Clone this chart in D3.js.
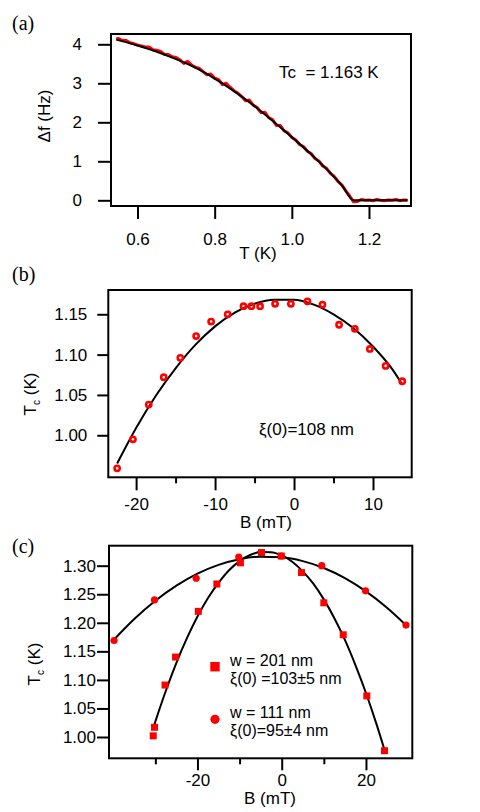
<!DOCTYPE html>
<html><head><meta charset="utf-8">
<script src="https://cdn.jsdelivr.net/npm/d3@7"></script>
<style>
body{margin:0;background:#fff}
svg{display:block}
</style>
</head><body>
<script>
// ---------- Panel (a): frequency shift vs temperature ----------
const aT = [0.545,0.55,0.56,0.57,0.58,0.59,0.60,0.61,0.62,0.63,0.64,0.65,0.66,0.67,0.68,0.69,
  0.70,0.71,0.72,0.73,0.74,0.75,0.76,0.77,0.78,0.79,0.80,0.81,0.82,0.83,0.84,0.85,0.86,0.87,0.88,0.89,
  0.90,0.91,0.92,0.93,0.94,0.95,0.96,0.97,0.98,0.99,1.00,1.01,1.02,1.03,1.04,1.05,1.06,1.07,1.08,1.09,
  1.10,1.11,1.12,1.13,1.14,1.15,1.16,1.17,1.18,1.19,1.20,1.21,1.22,1.23,1.24,1.25,1.26,1.27,1.28,1.29,1.30];
const aDf = [4.13,4.15,4.10,4.10,4.04,4.02,3.98,3.96,3.93,3.93,3.86,3.85,3.82,3.74,3.74,3.68,
  3.66,3.60,3.51,3.56,3.47,3.41,3.38,3.30,3.22,3.24,3.13,3.10,2.97,3.00,2.90,2.81,2.75,2.66,2.55,2.57,
  2.44,2.38,2.25,2.26,2.12,2.07,1.92,1.92,1.78,1.73,1.61,1.55,1.43,1.38,1.26,1.20,1.07,1.01,0.88,0.82,
  0.69,0.61,0.48,0.39,0.24,0.11,-0.04,-0.03,0.02,0.00,0.01,-0.01,0.02,0.00,-0.01,0.01,0.00,0.02,-0.01,0.01,0.00];
const aFitT  = [0.545,0.60,0.65,0.70,0.75,0.80,0.85,0.90,0.95,1.00,1.05,1.10,1.13,1.16,1.30];
const aFitDf = [4.12,3.97,3.81,3.62,3.40,3.12,2.80,2.44,2.04,1.62,1.18,0.70,0.38,0.00,0.00];
const aXTicks = [0.6,0.8,1.0,1.2];
const aYTicks = [0,1,2,3,4];

// ---------- Panel (b): Tc vs B ----------
const bB  = [-22.4,-20.4,-18.4,-16.5,-14.4,-12.4,-10.5,-8.4,-6.4,-5.4,-4.3,-2.4,-0.4,1.7,3.6,5.7,7.7,9.6,11.6,13.7];
const bTc = [0.959,0.995,1.038,1.072,1.096,1.123,1.141,1.150,1.160,1.160,1.160,1.163,1.163,1.166,1.162,1.137,1.132,1.107,1.086,1.067];
const bFitB  = [-22.4,-20,-17.5,-15,-12.5,-10,-7.5,-5,-2.5,0,2.5,5,7.5,10,12.5,13.7];
const bFitTc = [0.965,1.009,1.049,1.083,1.112,1.135,1.152,1.163,1.168,1.168,1.162,1.150,1.133,1.110,1.081,1.063];
const bXTicks = [-20,-10,0,10];
const bXMinor = [-15,-5,5];
const bYTicks = [1.00,1.05,1.10,1.15];

// ---------- Panel (c): two widths ----------
const cSqB  = [-30.5,-30.2,-27.7,-25.2,-19.8,-15.4,-9.8,-4.8,-0.1,4.7,10.0,14.6,20.2,24.4];
const cSqTc = [1.002,1.017,1.091,1.140,1.220,1.268,1.305,1.323,1.317,1.288,1.235,1.179,1.072,0.976];
const cCiB  = [-39.8,-30.2,-20.3,-10.2,-0.1,9.5,19.9,29.5];
const cCiTc = [1.169,1.240,1.278,1.315,1.317,1.300,1.256,1.196];
const cSqFitB  = [-30.4,-30,-27.5,-25,-22.5,-20,-17.5,-15,-12.5,-10,-7.5,-5,-2.5,0,2.5,5,7.5,10,12.5,15,17.5,20,22.5,24.3];
const cSqFitTc = [1.018,1.027,1.081,1.130,1.173,1.211,1.2435,1.270,1.292,1.308,1.3187,1.3239,1.3237,1.318,1.307,1.290,1.2685,1.241,1.208,1.170,1.126,1.077,1.0225,0.980];
const cCiFitB  = [-40,-35,-30,-25,-20,-15,-10,-5,0,5,10,15,20,25,29.5];
const cCiFitTc = [1.169,1.2065,1.2385,1.265,1.286,1.3014,1.3113,1.3158,1.3146,1.308,1.2959,1.2782,1.255,1.2263,1.1958];
const cXTicks = [-20,0,20];
const cXMinor = [-30,-10,10];
const cYTicks = [1.00,1.05,1.10,1.15,1.20,1.25,1.30];
const cLegend = [
  {shape:"square", l1:"w = 201 nm", l2:"ξ(0) =103±5 nm"},
  {shape:"circle", l1:"w = 111 nm", l2:"ξ(0)=95±4 nm"}
];

// ---------- drawing ----------
const RED = "#ff0000";
const SANS = 'Arial,"Liberation Sans",sans-serif';
const SERIF = '"Liberation Serif","Times New Roman",serif';
const svg = d3.select("body").append("svg").attr("width",480).attr("height",812)
  .style("font-family",SANS);

function styleAxis(g){
  g.select(".domain").remove();
  g.selectAll(".tick line").attr("stroke","#000").attr("stroke-width",2);
  g.selectAll(".tick text").style("font-size","17px").style("font-family",SANS).attr("fill","#000");
}

function frameAndAxes(x, y, o){
  const [x0,x1] = x.range(), [y0,y1] = y.range();
  const g = svg.append("g");
  g.append("g").attr("transform",`translate(0,${y0})`)
    .call(d3.axisBottom(x).tickValues(o.xTicks).tickSize(o.xLen).tickPadding(o.xPad).tickFormat(o.xFmt))
    .call(styleAxis);
  if (o.xMinor) g.append("g").attr("transform",`translate(0,${y0})`)
    .call(d3.axisBottom(x).tickValues(o.xMinor).tickSize(6).tickFormat(""))
    .call(styleAxis);
  g.append("g").attr("transform",`translate(${x0},0)`)
    .call(d3.axisLeft(y).tickValues(o.yTicks).tickSize(o.yLen).tickPadding(o.yPad).tickFormat(o.yFmt))
    .call(styleAxis);
  g.append("rect").attr("x",x0).attr("y",y1).attr("width",x1-x0).attr("height",y0-y1)
    .attr("fill","none").attr("stroke","#000").attr("stroke-width",2);
  return g;
}

function txt(x,y,s,size,anchor){
  return svg.append("text").attr("x",x).attr("y",y).style("font-size",size+"px")
    .attr("text-anchor",anchor||"start").attr("fill","#000").text(s);
}

function yTitle(x, y, main, sub, rest){
  const t = svg.append("text").attr("transform",`translate(${x},${y}) rotate(-90)`)
    .attr("text-anchor","middle").style("font-size","17px").attr("fill","#000");
  t.append("tspan").text(main);
  if (sub){
    t.append("tspan").style("font-size","10px").attr("dy",4).text(sub);
    t.append("tspan").attr("dy",-4).text(rest);
  }
}

function panelLabel(x,y,s){
  svg.append("text").attr("x",x).attr("y",y).style("font-size","20px")
    .style("font-family",SERIF).attr("fill","#000").text(s);
}

const intFmt = d => String(d);

// Panel (a)
{
  const x = d3.scaleLinear().domain([0.5313,1.3089]).range([111,411]);
  const y = d3.scaleLinear().domain([-0.146,4.264]).range([206,34]);
  frameAndAxes(x,y,{xTicks:aXTicks,xLen:13,xPad:14,xFmt:d3.format(".1f"),
    yTicks:aYTicks,yLen:13,yPad:16,yFmt:intFmt});
  const line = d3.line().x(d=>x(d[0])).y(d=>y(d[1]));
  svg.append("path").datum(aT.map((t,i)=>[t,aDf[i]])).attr("d",line)
    .attr("fill","none").attr("stroke",RED).attr("stroke-width",3).attr("stroke-linejoin","round");
  svg.append("path").datum(aFitT.map((t,i)=>[t,aFitDf[i]])).attr("d",line.curve(d3.curveMonotoneX))
    .attr("fill","none").attr("stroke","#000").attr("stroke-width",2);
  txt(279,78,"Tc  = 1.163 K",17).attr("xml:space","preserve").style("white-space","pre");
  txt(258,259,"T (K)",17,"middle");
  yTitle(50,116,"Δf (Hz)");
  panelLabel(12,30,"(a)");
}

// Panel (b)
{
  const x = d3.scaleLinear().domain([-23.52,14.9]).range([108.3,411.7]);
  const y = d3.scaleLinear().domain([0.9479,1.1801]).range([477.3,290]);
  frameAndAxes(x,y,{xTicks:bXTicks,xMinor:bXMinor,xLen:13,xPad:8,xFmt:intFmt,
    yTicks:bYTicks,yLen:11,yPad:10,yFmt:d3.format(".2f")});
  const line = d3.line().x(d=>x(d[0])).y(d=>y(d[1])).curve(d3.curveMonotoneX);
  svg.append("path").datum(bFitB.map((b,i)=>[b,bFitTc[i]])).attr("d",line)
    .attr("fill","none").attr("stroke","#000").attr("stroke-width",2);
  svg.append("g").selectAll("circle").data(bB.map((b,i)=>[b,bTc[i]])).join("circle")
    .attr("cx",d=>x(d[0])).attr("cy",d=>y(d[1])).attr("r",2.6)
    .attr("fill","none").attr("stroke",RED).attr("stroke-width",2.6);
  txt(259,435,"ξ(0)=108 nm",17);
  txt(266,528,"B (mT)",17,"middle");
  yTitle(36,394,"T","c"," (K)");
  panelLabel(12,281,"(b)");
}

// Panel (c)
{
  const x = d3.scaleLinear().domain([-41.0,31.0]).range([109,412.3]);
  const y = d3.scaleLinear().domain([0.9627,1.3350]).range([758.3,545.7]);
  frameAndAxes(x,y,{xTicks:cXTicks,xMinor:cXMinor,xLen:12,xPad:4,xFmt:intFmt,
    yTicks:cYTicks,yLen:12,yPad:1,yFmt:d3.format(".2f")});
  const line = d3.line().x(d=>x(d[0])).y(d=>y(d[1])).curve(d3.curveMonotoneX);
  svg.append("path").datum(cSqFitB.map((b,i)=>[b,cSqFitTc[i]])).attr("d",line)
    .attr("fill","none").attr("stroke","#000").attr("stroke-width",2);
  svg.append("path").datum(cCiFitB.map((b,i)=>[b,cCiFitTc[i]])).attr("d",line)
    .attr("fill","none").attr("stroke","#000").attr("stroke-width",2);
  const s = 7;
  svg.append("g").selectAll("rect").data(cSqB.map((b,i)=>[b,cSqTc[i]])).join("rect")
    .attr("x",d=>x(d[0])-s/2).attr("y",d=>y(d[1])-s/2).attr("width",s).attr("height",s).attr("fill",RED);
  svg.append("g").selectAll("circle").data(cCiB.map((b,i)=>[b,cCiTc[i]])).join("circle")
    .attr("cx",d=>x(d[0])).attr("cy",d=>y(d[1])).attr("r",3.6).attr("fill",RED);
  // legend
  const lg = svg.append("g");
  const rows = [666.7, 719.3];
  cLegend.forEach((e,i)=>{
    const cy = rows[i];
    if (e.shape==="square") lg.append("rect").attr("x",215-4.7).attr("y",cy-4.7).attr("width",9.4).attr("height",9.4).attr("fill",RED);
    else lg.append("circle").attr("cx",215).attr("cy",cy).attr("r",4.6).attr("fill",RED);
    lg.append("text").attr("x",230).attr("y",cy-1).style("font-size","16px").attr("fill","#000").text(e.l1);
    lg.append("text").attr("x",230).attr("y",cy+17).style("font-size","16px").attr("fill","#000").text(e.l2);
  });
  txt(270,804,"B (mT)",17,"middle");
  yTitle(40,664,"T","c"," (K)");
  panelLabel(12,553,"(c)");
}
</script>
</body></html>
